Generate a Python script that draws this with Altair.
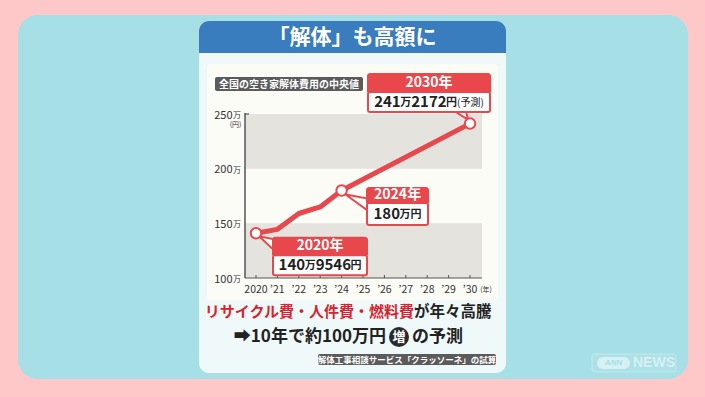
import altair as alt
import pandas as pd

# ---------------- data ----------------
years = [2020, 2021, 2022, 2023, 2024, 2030]
cost_man_yen = [140.9546, 144.5, 159.0, 165.0, 180.0, 241.2172]
marker_years = [2020, 2024, 2030]
marker_values = [140.9546, 180.0, 241.2172]
callout_titles = ["2020年", "2024年", "2030年"]
callout_parts = [["140", "万", "9546", "円"],
                 ["180", "万円"],
                 ["241", "万", "2172", "円", "(予測)"]]
y_ticks = [100, 150, 200, 250]
y_unit = "万"
y_unit_note = "(円)"
x_ticks = list(range(2020, 2031))
x_tick_labels = ["2020", "’21", "’22", "’23", "’24", "’25", "’26", "’27", "’28", "’29", "’30"]
x_unit = "(年)"
band_lo = [100, 200]
band_hi = [150, 250]
title_text = "「解体」も高額に"
chart_label = "全国の空き家解体費用の中央値"
note_red = "リサイクル費・人件費・燃料費"
note_black = "が年々高騰"
note2_left = "➡10年で約100万円"
note2_circle = "増"
note2_right = "の予測"
source_text = "解体工事相談サービス「クラッソーネ」の試算"
logo_ann = "ANN"
logo_news = "NEWS"

# ---------------- layout / style ----------------
FONT = "Noto Sans CJK JP"
PINK = "#FEC8C9"
TEAL = "#A6DFE6"
CARD = "#F0F9FA"
PANEL = "#FCFCF7"
BLUE = "#3A7DBE"
RED = "#E8474C"
RED_TXT = "#D8232C"
DARK = "#333333"
BAND = "#E4E3DE"

LEFT, TOP = 245, 114
W, H = 237, 164


def px(v):
    return v - LEFT


def py(v):
    return v - TOP


one = pd.DataFrame({"_": [0]})
xs = alt.Scale(domain=[2019.486, 2030.56], nice=False, zero=False)
ys = alt.Scale(domain=[100, 250], nice=False, zero=False)


def box(x1, x2, y1, y2, **kw):
    return alt.Chart(one).mark_rect(**kw).encode(
        x=alt.value(px(x1)), x2=alt.value(px(x2)),
        y=alt.value(py(y1)), y2=alt.value(py(y2)))


def label(x, y, text, **kw):
    kw.setdefault("font", FONT)
    kw.setdefault("baseline", "middle")
    return alt.Chart(one).mark_text(text=text, **kw).encode(
        x=alt.value(px(x)), y=alt.value(py(y)))


def part_style(p):
    if p[0].isdigit():
        return 15, "bold"
    if p.startswith("("):
        return 10, "normal"
    return 11, "bold"


def part_width(p):
    size, _ = part_style(p)
    w = 0.0
    for ch in p:
        if ch.isdigit():
            w += 0.58 * size
        elif ch in "()":
            w += 0.34 * size
        else:
            w += 1.0 * size
    return w


layers = []
# background frames
layers.append(box(18, 688, 15, 379, fill=TEAL, cornerRadius=20))
layers.append(box(199, 506, 21, 373, fill=CARD, cornerRadius=10))
layers.append(box(199, 506, 21, 53, fill=BLUE, cornerRadiusTopLeft=10, cornerRadiusTopRight=10))
layers.append(box(207, 498, 64, 300, fill=PANEL, cornerRadius=4))
layers.append(label(352.5, 37.5, title_text, fontSize=21, fontWeight="bold", color="white", align="center"))
layers.append(box(215, 363, 77, 91, fill="#5B5B5B", cornerRadius=2))
layers.append(label(289, 84.5, chart_label, fontSize=10, fontWeight="bold", color="white", align="center"))

# bands
bands = pd.DataFrame({"lo": band_lo, "hi": band_hi})
layers.append(alt.Chart(bands).mark_rect(fill=BAND).encode(
    x=alt.value(0), x2=alt.value(W),
    y=alt.Y("lo:Q", scale=ys, axis=None), y2="hi:Q"))

# axes
layers.append(alt.Chart(one).mark_rule(color="#555", strokeWidth=1.5).encode(
    x=alt.value(0), y=alt.value(-1), y2=alt.value(H)))
layers.append(alt.Chart(one).mark_rule(color="#555", strokeWidth=1.2).encode(
    x=alt.value(0), x2=alt.value(W), y=alt.value(H)))
layers.append(alt.Chart(one).mark_rule(color="#555", strokeWidth=1.2).encode(
    x=alt.value(0), x2=alt.value(4), y=alt.value(0)))
xdf = pd.DataFrame({"year": x_ticks, "lab": x_tick_labels})
layers.append(alt.Chart(xdf).mark_rule(color="#555", strokeWidth=1).encode(
    x=alt.X("year:Q", scale=xs, axis=None), y=alt.value(H - 3), y2=alt.value(H)))
layers.append(alt.Chart(xdf).mark_text(font=FONT, fontSize=10.5, color=DARK, baseline="middle").encode(
    x=alt.X("year:Q", scale=xs, axis=None), y=alt.value(py(290)), text="lab:N"))
layers.append(label(486, 290, x_unit, fontSize=7, color=DARK, align="center"))

ydf = pd.DataFrame({"v": y_ticks, "lab": [str(v) for v in y_ticks]})
layers.append(alt.Chart(ydf).mark_text(font=FONT, fontSize=11, color=DARK, align="right", baseline="middle", dy=1.5).encode(
    x=alt.value(-12.5), y=alt.Y("v:Q", scale=ys, axis=None), text="lab:N"))
layers.append(alt.Chart(ydf).mark_text(text=y_unit, font=FONT, fontSize=8, color=DARK, align="left", baseline="middle", dy=2).encode(
    x=alt.value(-12), y=alt.Y("v:Q", scale=ys, axis=None)))
layers.append(label(235.5, 125, y_unit_note, fontSize=7, color=DARK, align="center"))

# line
ldf = pd.DataFrame({"year": years, "value": cost_man_yen})
layers.append(alt.Chart(ldf).mark_line(color=RED, strokeWidth=5, strokeCap="round", strokeJoin="round").encode(
    x=alt.X("year:Q", scale=xs, axis=None), y=alt.Y("value:Q", scale=ys, axis=None)))

# callouts (offsets in px from the data point)
callout_layout = [
    dict(box=(17, 111), hdr=(3.5, 22), body=(22, 42), title_at=(64, 12.8), body_dy=32,
         ptr="M3,3 L18,6 L18,17 Z"),
    dict(box=(25.4, 86.4), hdr=(-3.5, 12.5), body=(12.5, 34.5), title_at=(56, 4.5), body_dy=23.5,
         ptr="M4,4 L26,8 L26,20 Z"),
    dict(box=(-102, 20), hdr=(-50.6, -31.6), body=(-31.6, -11.6), title_at=(-41, -41), body_dy=-21.6,
         ptr="M-15,-12 L-4,-12 L-2,-4 Z"),
]
for i, lay in enumerate(callout_layout):
    d = pd.DataFrame({"year": [marker_years[i]], "value": [marker_values[i]], "t": [callout_titles[i]]})
    enc = dict(x=alt.X("year:Q", scale=xs, axis=None), y=alt.Y("value:Q", scale=ys, axis=None))
    encr = dict(enc, x2=alt.X2("year:Q"), y2=alt.Y2("value:Q"))
    layers.append(alt.Chart(d).mark_point(shape=lay["ptr"], size=4, filled=True, fill="white",
                                          stroke=RED, strokeWidth=2, opacity=1).encode(**enc))
    layers.append(alt.Chart(d).mark_rect(fill="white", stroke=RED, strokeWidth=2,
                                         xOffset=lay["box"][0], x2Offset=lay["box"][1],
                                         yOffset=lay["body"][0], y2Offset=lay["body"][1],
                                         cornerRadius=2).encode(**encr))
    layers.append(alt.Chart(d).mark_rect(fill=RED,
                                         xOffset=lay["box"][0] - 1, x2Offset=lay["box"][1] + 1,
                                         yOffset=lay["hdr"][0], y2Offset=lay["hdr"][1],
                                         cornerRadiusTopLeft=3, cornerRadiusTopRight=3).encode(**encr))
    layers.append(alt.Chart(d).mark_text(font=FONT, fontSize=14, fontWeight="bold", color="white",
                                         align="center", baseline="middle",
                                         dx=lay["title_at"][0], dy=lay["title_at"][1]).encode(text="t:N", **enc))
    parts = callout_parts[i]
    total = sum(part_width(p) for p in parts)
    cx = (lay["box"][0] + lay["box"][1]) / 2
    pos = cx - total / 2
    for part in parts:
        size, weight = part_style(part)
        layers.append(alt.Chart(d).mark_text(text=part, font=FONT, fontSize=size, fontWeight=weight,
                                             color="#222", align="left", baseline="middle",
                                             dx=pos, dy=lay["body_dy"] + (1 if size < 14 else 0)).encode(**enc))
        pos += part_width(part)

# markers
mdf = pd.DataFrame({"year": marker_years, "value": marker_values})
layers.append(alt.Chart(mdf).mark_point(shape="circle", filled=True, fill="white", stroke=RED,
                                        strokeWidth=2, size=110, opacity=1).encode(
    x=alt.X("year:Q", scale=xs, axis=None), y=alt.Y("value:Q", scale=ys, axis=None)))

# bottom notes
layers.append(label(414, 312, note_red, fontSize=15, fontWeight="bold", color=RED_TXT, align="right"))
layers.append(label(414, 312, note_black, fontSize=15.5, fontWeight="bold", color="#222", align="left"))
layers.append(label(386, 337, note2_left, fontSize=17, fontWeight="bold", color="#222", align="right"))
layers.append(alt.Chart(one).mark_point(shape="circle", filled=True, color="#2B2B2B", size=400, opacity=1).encode(
    x=alt.value(px(399)), y=alt.value(py(337))))
layers.append(label(399, 337, note2_circle, fontSize=13, fontWeight="bold", color="white", align="center"))
layers.append(label(412, 337, note2_right, fontSize=17, fontWeight="bold", color="#222", align="left"))
layers.append(box(318, 496, 354, 365, fill="#5B5B5B", cornerRadius=2))
layers.append(label(407, 359.5, source_text, fontSize=8.5, fontWeight="bold", color="white", align="center"))

# logo
layers.append(box(592, 676, 354, 372, fill="white", fillOpacity=0.08, stroke="white", strokeOpacity=0.3, cornerRadius=3))
layers.append(box(597, 630, 357, 369, fill="white", fillOpacity=0.5, cornerRadius=6))
layers.append(label(613.5, 363, logo_ann, fontSize=8, fontWeight="bold", fontStyle="italic", color=TEAL, align="center", font="Liberation Sans"))
layers.append(label(633, 363, logo_news, fontSize=14, fontWeight="bold", color="white", opacity=0.5, align="left", font="Liberation Sans"))

chart = alt.layer(*layers).properties(
    width=W, height=H,
    padding={"left": LEFT, "top": TOP, "right": 705 - LEFT - W, "bottom": 397 - TOP - H},
    autosize=alt.AutoSizeParams(type="none"),
    background=PINK,
).configure_view(stroke=None)

chart.save("out.html", embed_options={"renderer": "svg", "actions": False})
